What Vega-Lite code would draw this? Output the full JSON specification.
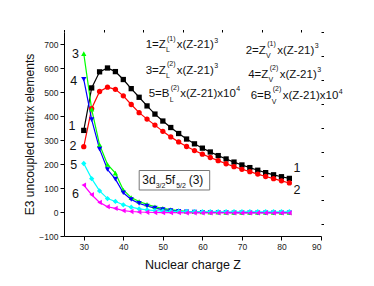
{
  "$schema": "https://vega.github.io/schema/vega-lite/v6.json",
  "width": 257,
  "height": 204,
  "autosize": "none",
  "padding": {"left": 64, "top": 32, "right": 53, "bottom": 50},
  "config": {
    "view": {"stroke": null},
    "font": "Liberation Sans",
    "axis": {"grid": false, "domainColor": "#000", "tickColor": "#000", "labelColor": "#222", "titleColor": "#111", "labelFont": "Liberation Sans", "titleFont": "Liberation Sans", "titleFontWeight": "normal", "domainWidth": 1, "tickWidth": 1}
  },
  "datasets": {
    "series": [
      {"Z":30,"v":340,"s":"1"},{"Z":32,"v":517,"s":"1"},{"Z":34,"v":584,"s":"1"},{"Z":36,"v":600,"s":"1"},{"Z":38,"v":585,"s":"1"},{"Z":40,"v":552,"s":"1"},{"Z":42,"v":514,"s":"1"},{"Z":44,"v":478,"s":"1"},{"Z":46,"v":442,"s":"1"},{"Z":48,"v":408,"s":"1"},{"Z":50,"v":379,"s":"1"},{"Z":52,"v":352,"s":"1"},{"Z":54,"v":327,"s":"1"},{"Z":56,"v":304,"s":"1"},{"Z":58,"v":284,"s":"1"},{"Z":60,"v":266,"s":"1"},{"Z":62,"v":250,"s":"1"},{"Z":64,"v":235,"s":"1"},{"Z":66,"v":221,"s":"1"},{"Z":68,"v":208,"s":"1"},{"Z":70,"v":196,"s":"1"},{"Z":72,"v":185,"s":"1"},{"Z":74,"v":174,"s":"1"},{"Z":76,"v":164,"s":"1"},{"Z":78,"v":155,"s":"1"},{"Z":80,"v":147,"s":"1"},{"Z":82,"v":140,"s":"1"},
      {"Z":30,"v":272,"s":"2"},{"Z":32,"v":431,"s":"2"},{"Z":34,"v":502,"s":"2"},{"Z":36,"v":520,"s":"2"},{"Z":38,"v":511,"s":"2"},{"Z":40,"v":484,"s":"2"},{"Z":42,"v":448,"s":"2"},{"Z":44,"v":414,"s":"2"},{"Z":46,"v":387,"s":"2"},{"Z":48,"v":362,"s":"2"},{"Z":50,"v":336,"s":"2"},{"Z":52,"v":313,"s":"2"},{"Z":54,"v":292,"s":"2"},{"Z":56,"v":273,"s":"2"},{"Z":58,"v":256,"s":"2"},{"Z":60,"v":241,"s":"2"},{"Z":62,"v":227,"s":"2"},{"Z":64,"v":214,"s":"2"},{"Z":66,"v":201,"s":"2"},{"Z":68,"v":189,"s":"2"},{"Z":70,"v":178,"s":"2"},{"Z":72,"v":168,"s":"2"},{"Z":74,"v":158,"s":"2"},{"Z":76,"v":148,"s":"2"},{"Z":78,"v":139,"s":"2"},{"Z":80,"v":130,"s":"2"},{"Z":82,"v":121,"s":"2"},
      {"Z":30,"v":660,"s":"3"},{"Z":32,"v":428,"s":"3"},{"Z":34,"v":280,"s":"3"},{"Z":36,"v":198,"s":"3"},{"Z":38,"v":162,"s":"3"},{"Z":40,"v":92,"s":"3"},{"Z":42,"v":60,"s":"3"},{"Z":44,"v":44,"s":"3"},{"Z":46,"v":32,"s":"3"},{"Z":48,"v":22,"s":"3"},{"Z":50,"v":15,"s":"3"},{"Z":52,"v":10,"s":"3"},{"Z":54,"v":6,"s":"3"},{"Z":56,"v":3,"s":"3"},{"Z":58,"v":1,"s":"3"},{"Z":60,"v":0,"s":"3"},{"Z":62,"v":-1,"s":"3"},{"Z":64,"v":-1,"s":"3"},{"Z":66,"v":-2,"s":"3"},{"Z":68,"v":-2,"s":"3"},{"Z":70,"v":-2,"s":"3"},{"Z":72,"v":-2,"s":"3"},{"Z":74,"v":-2,"s":"3"},{"Z":76,"v":-2,"s":"3"},{"Z":78,"v":-2,"s":"3"},{"Z":80,"v":-2,"s":"3"},{"Z":82,"v":-2,"s":"3"},
      {"Z":30,"v":553,"s":"4"},{"Z":32,"v":385,"s":"4"},{"Z":34,"v":262,"s":"4"},{"Z":36,"v":177,"s":"4"},{"Z":38,"v":137,"s":"4"},{"Z":40,"v":80,"s":"4"},{"Z":42,"v":52,"s":"4"},{"Z":44,"v":36,"s":"4"},{"Z":46,"v":25,"s":"4"},{"Z":48,"v":16,"s":"4"},{"Z":50,"v":10,"s":"4"},{"Z":52,"v":6,"s":"4"},{"Z":54,"v":3,"s":"4"},{"Z":56,"v":1,"s":"4"},{"Z":58,"v":0,"s":"4"},{"Z":60,"v":-1,"s":"4"},{"Z":62,"v":-2,"s":"4"},{"Z":64,"v":-2,"s":"4"},{"Z":66,"v":-2,"s":"4"},{"Z":68,"v":-3,"s":"4"},{"Z":70,"v":-3,"s":"4"},{"Z":72,"v":-3,"s":"4"},{"Z":74,"v":-3,"s":"4"},{"Z":76,"v":-3,"s":"4"},{"Z":78,"v":-3,"s":"4"},{"Z":80,"v":-3,"s":"4"},{"Z":82,"v":-3,"s":"4"},
      {"Z":30,"v":202,"s":"5"},{"Z":32,"v":139,"s":"5"},{"Z":34,"v":88,"s":"5"},{"Z":36,"v":56,"s":"5"},{"Z":38,"v":44,"s":"5"},{"Z":40,"v":30,"s":"5"},{"Z":42,"v":20,"s":"5"},{"Z":44,"v":13,"s":"5"},{"Z":46,"v":9,"s":"5"},{"Z":48,"v":6,"s":"5"},{"Z":50,"v":4,"s":"5"},{"Z":52,"v":3,"s":"5"},{"Z":54,"v":2,"s":"5"},{"Z":56,"v":2,"s":"5"},{"Z":58,"v":1,"s":"5"},{"Z":60,"v":1,"s":"5"},{"Z":62,"v":1,"s":"5"},{"Z":64,"v":1,"s":"5"},{"Z":66,"v":1,"s":"5"},{"Z":68,"v":1,"s":"5"},{"Z":70,"v":1,"s":"5"},{"Z":72,"v":1,"s":"5"},{"Z":74,"v":1,"s":"5"},{"Z":76,"v":1,"s":"5"},{"Z":78,"v":1,"s":"5"},{"Z":80,"v":1,"s":"5"},{"Z":82,"v":1,"s":"5"},
      {"Z":30,"v":112,"s":"6"},{"Z":32,"v":72,"s":"6"},{"Z":34,"v":40,"s":"6"},{"Z":36,"v":22,"s":"6"},{"Z":38,"v":15,"s":"6"},{"Z":40,"v":6,"s":"6"},{"Z":42,"v":2,"s":"6"},{"Z":44,"v":0,"s":"6"},{"Z":46,"v":-1,"s":"6"},{"Z":48,"v":-2,"s":"6"},{"Z":50,"v":-3,"s":"6"},{"Z":52,"v":-3,"s":"6"},{"Z":54,"v":-3,"s":"6"},{"Z":56,"v":-4,"s":"6"},{"Z":58,"v":-4,"s":"6"},{"Z":60,"v":-4,"s":"6"},{"Z":62,"v":-4,"s":"6"},{"Z":64,"v":-4,"s":"6"},{"Z":66,"v":-4,"s":"6"},{"Z":68,"v":-4,"s":"6"},{"Z":70,"v":-4,"s":"6"},{"Z":72,"v":-4,"s":"6"},{"Z":74,"v":-4,"s":"6"},{"Z":76,"v":-4,"s":"6"},{"Z":78,"v":-4,"s":"6"},{"Z":80,"v":-4,"s":"6"},{"Z":82,"v":-4,"s":"6"}
    ],
    "labels": [
      {"Z":27.88,"v":657,"t":"3"},{"Z":27.45,"v":546,"t":"4"},{"Z":27.02,"v":358,"t":"1"},{"Z":27.28,"v":275,"t":"2"},{"Z":27.45,"v":196,"t":"5"},{"Z":27.88,"v":74,"t":"6"},{"Z":83.93,"v":182,"t":"1"},{"Z":83.93,"v":92,"t":"2"}
    ],
    "fmain": [
      {"Z":45.66,"v":683.3,"t":"1=Z"},{"Z":53.5,"v":683.3,"t":"x(Z-21)"},
      {"Z":70.95,"v":660.4,"t":"2=Z"},{"Z":78.92,"v":660.4,"t":"x(Z-21)"},
      {"Z":45.66,"v":575,"t":"3=Z"},{"Z":53.5,"v":575,"t":"x(Z-21)"},
      {"Z":71.59,"v":558.3,"t":"4=Z"},{"Z":79.55,"v":558.3,"t":"x(Z-21)"},
      {"Z":46.42,"v":477.1,"t":"5=B"},{"Z":54.39,"v":477.1,"t":"x(Z-21)x10"},
      {"Z":72.22,"v":470.8,"t":"6=B"},{"Z":80.31,"v":470.8,"t":"x(Z-21)x10"}
    ],
    "fsmall": [
      {"Z":50.8,"v":666.7,"t":"L"},{"Z":51.05,"v":712.5,"t":"(1)"},{"Z":62.99,"v":704.2,"t":"3"},
      {"Z":76.09,"v":641.7,"t":"V"},{"Z":76.39,"v":693.75,"t":"(1)"},{"Z":88.4,"v":683.3,"t":"3"},
      {"Z":50.8,"v":558.3,"t":"L"},{"Z":51.05,"v":608.3,"t":"(2)"},{"Z":62.99,"v":600,"t":"3"},
      {"Z":76.72,"v":539.6,"t":"V"},{"Z":77.02,"v":591.7,"t":"(2)"},{"Z":89.04,"v":583.3,"t":"3"},
      {"Z":51.73,"v":460.4,"t":"L"},{"Z":51.99,"v":510.4,"t":"(2)"},{"Z":68.55,"v":502.1,"t":"4"},
      {"Z":77.53,"v":450,"t":"V"},{"Z":77.78,"v":504.2,"t":"(2)"},{"Z":94.47,"v":491.7,"t":"4"}
    ],
    "box": [{"Z1":44.02,"Z2":61.85,"v1":172.9,"v2":91.7}],
    "bmain": [{"Z":44.78,"v":114.6,"t":"3d"},{"Z":50.59,"v":114.6,"t":"5f"},{"Z":56.54,"v":114.6,"t":"(3)"}],
    "bsmall": [{"Z":48.19,"v":100,"t":"3/2"},{"Z":53.38,"v":100,"t":"5/2"}],
    "minorticks": [{"Z":25,"v":-50}]
  },
  "resolve": {"axis": {"x": "independent", "y": "independent"}},
  "layer": [
    {
      "data": {"name": "series"},
      "mark": {"type": "line", "strokeWidth": 1.2},
      "encoding": {
        "x": {"field": "Z", "type": "quantitative", "scale": {"domain": [25, 90], "nice": false, "zero": false},
              "axis": {"values": [30,40,50,60,70,80,90], "title": "Nuclear charge Z", "titleFontSize": 12.5, "labelFontSize": 8.5, "tickSize": 4, "labelPadding": 2, "titlePadding": 8}},
        "y": {"field": "v", "type": "quantitative", "scale": {"domain": [-100, 750], "nice": false, "zero": false},
              "axis": {"values": [-100,0,100,200,300,400,500,600,700], "title": "E3 uncoupled matrix elements", "titleFontSize": 12, "labelFontSize": 8.5, "tickSize": 4, "labelPadding": 2, "titlePadding": 2}},
        "color": {"field": "s", "type": "nominal", "scale": {"domain": ["1","2","3","4","5","6"], "range": ["#000000","#ff0000","#00ff00","#0000ff","#00ffff","#ff00ff"]}, "legend": null}
      }
    },
    {
      "data": {"name": "series"},
      "mark": {"type": "point", "filled": true, "opacity": 1, "size": 28},
      "encoding": {
        "x": {"field": "Z", "type": "quantitative", "axis": null},
        "y": {"field": "v", "type": "quantitative", "axis": null},
        "color": {"field": "s", "type": "nominal", "legend": null},
        "shape": {"field": "s", "type": "nominal", "scale": {"domain": ["1","2","3","4","5","6"], "range": ["square","circle","triangle-up","triangle-down","diamond","triangle-left"]}, "legend": null}
      }
    },
    {
      "data": {"name": "minorticks"},
      "mark": {"type": "point", "opacity": 0},
      "encoding": {
        "x": {"field": "Z", "type": "quantitative", "axis": {"values": [25,35,45,55,65,75,85], "labels": false, "domain": false, "tickSize": 2.5, "title": null}},
        "y": {"field": "v", "type": "quantitative", "axis": {"values": [-50,50,150,250,350,450,550,650,750], "labels": false, "domain": false, "tickSize": 2.5, "title": null}}
      }
    },
    {
      "data": {"name": "box"},
      "mark": {"type": "rect", "fill": "#ffffff", "stroke": "#777777", "strokeWidth": 1},
      "encoding": {
        "x": {"field": "Z1", "type": "quantitative", "axis": null},
        "x2": {"field": "Z2"},
        "y": {"field": "v1", "type": "quantitative", "axis": null},
        "y2": {"field": "v2"}
      }
    },
    {
      "data": {"name": "bmain"},
      "mark": {"type": "text", "align": "left", "baseline": "alphabetic", "fontSize": 12, "color": "#111"},
      "encoding": {
        "x": {"field": "Z", "type": "quantitative", "axis": null},
        "y": {"field": "v", "type": "quantitative", "axis": null},
        "text": {"field": "t"}
      }
    },
    {
      "data": {"name": "bsmall"},
      "mark": {"type": "text", "align": "left", "baseline": "alphabetic", "fontSize": 7, "color": "#111"},
      "encoding": {
        "x": {"field": "Z", "type": "quantitative", "axis": null},
        "y": {"field": "v", "type": "quantitative", "axis": null},
        "text": {"field": "t"}
      }
    },
    {
      "data": {"name": "labels"},
      "mark": {"type": "text", "align": "center", "baseline": "middle", "fontSize": 12.5, "color": "#111"},
      "encoding": {
        "x": {"field": "Z", "type": "quantitative", "axis": null},
        "y": {"field": "v", "type": "quantitative", "axis": null},
        "text": {"field": "t"}
      }
    },
    {
      "data": {"name": "fmain"},
      "mark": {"type": "text", "align": "left", "baseline": "alphabetic", "fontSize": 11.5, "color": "#111"},
      "encoding": {
        "x": {"field": "Z", "type": "quantitative", "axis": null},
        "y": {"field": "v", "type": "quantitative", "axis": null},
        "text": {"field": "t"}
      }
    },
    {
      "data": {"name": "fsmall"},
      "mark": {"type": "text", "align": "left", "baseline": "alphabetic", "fontSize": 7, "color": "#111"},
      "encoding": {
        "x": {"field": "Z", "type": "quantitative", "axis": null},
        "y": {"field": "v", "type": "quantitative", "axis": null},
        "text": {"field": "t"}
      }
    }
  ]
}
